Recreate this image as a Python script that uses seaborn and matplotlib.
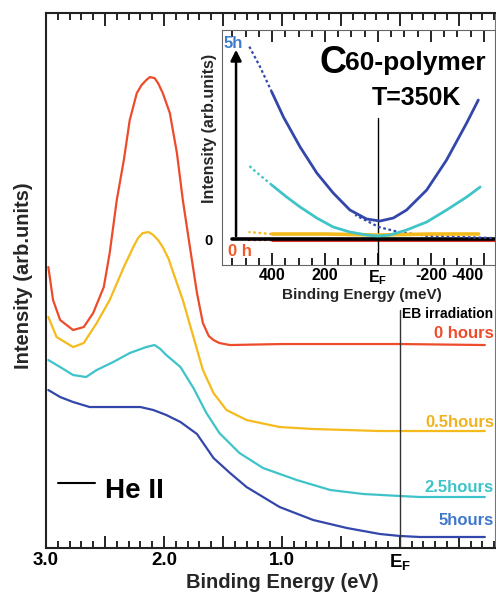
import matplotlib
matplotlib.use("Agg")
import pandas as pd
import seaborn as sns
import matplotlib.pyplot as plt
from matplotlib.ticker import FixedLocator, MultipleLocator

# main panel: binding energy (eV) vs intensity (arb.)
red_ev = [2.98, 2.94, 2.88, 2.77, 2.68, 2.60, 2.51, 2.46, 2.40, 2.34, 2.29, 2.23, 2.19, 2.15,
          2.12, 2.08, 2.05, 2.01, 1.95, 1.89, 1.84, 1.78, 1.72, 1.67, 1.62, 1.58, 1.53, 1.44,
          1.00, 0.50, 0.00, -0.72]
red_int = [281, 248, 228, 218, 221, 235, 261, 295, 348, 388, 428, 455, 463, 468,
           471, 470, 465, 455, 435, 395, 348, 301, 255, 225, 212, 208, 205, 203,
           204, 204, 204, 203]

yellow_ev = [2.98, 2.91, 2.77, 2.68, 2.57, 2.46, 2.34, 2.26, 2.22, 2.18, 2.13, 2.09, 2.05,
             2.01, 1.96, 1.92, 1.84, 1.75, 1.67, 1.58, 1.47, 1.30, 1.02, 0.735, 0.45, 0.17,
             -0.17, -0.72]
yellow_int = [231, 211, 201, 205, 225, 248, 281, 301, 310, 315, 316, 313, 308,
              301, 289, 275, 248, 211, 178, 155, 138, 128, 121, 119, 118, 117,
              117, 117]

cyan_ev = [2.98, 2.88, 2.77, 2.66, 2.57, 2.43, 2.29, 2.15, 2.08, 2.03, 1.98, 1.86, 1.75,
           1.64, 1.53, 1.36, 1.16, 0.875, 0.59, 0.31, 0.0, -0.17, -0.72]
cyan_int = [188, 181, 173, 171, 178, 186, 195, 201, 203, 199, 193, 181, 160,
            135, 115, 95, 80, 68, 58, 54, 52, 51, 51]

blue_ev = [2.98, 2.88, 2.77, 2.63, 2.49, 2.34, 2.20, 2.09, 1.98, 1.86, 1.72, 1.58, 1.44,
           1.30, 1.16, 1.02, 0.735, 0.45, 0.17, 0.0, -0.17, -0.72]
blue_int = [158, 151, 146, 141, 141, 141, 141, 138, 133, 126, 114, 90, 75,
            61, 51, 41, 28, 20, 14, 12, 11, 11]

series_names = ["0 hours", "0.5hours", "2.5hours", "5hours"]
line_colors = ["#EE4B2B", "#F5BA1C", "#3EC3CB", "#3347AA"]
label_colors = ["#EE4B2B", "#F0B21E", "#3EC3CB", "#3F78CA"]
label_base = [210, 121, 56, 23]

# inset: binding energy (meV) vs intensity near E_F
in_blue_mev = [401, 357, 294, 231, 169, 106, 43, -8, -58, -108, -184, -259, -335, -379]
in_blue_int = [147, 122, 92, 66, 46, 29, 20, 18, 21, 29, 49, 79, 116, 139]
in_cyan_mev = [401, 345, 294, 231, 169, 106, 43, -1, -45, -108, -184, -259, -335, -386]
in_cyan_int = [54, 42, 32, 21, 12, 7, 4, 3, 4, 9, 17, 29, 42, 52]
in_yellow_mev = [400, 200, 0, -200, -380]
in_yellow_int = [5, 5, 4, 5, 5]
in_red_mev = [401, 0, -442]
in_red_int = [-1, -1, -1]

# dotted extrapolations in the inset
dot_blue_mev = [489, 445, 401]
dot_blue_int = [194, 172, 147]
dot_cyan_mev = [489, 469, 401]
dot_cyan_int = [74, 69, 54]
dot_yellow_mev = [489, 401]
dot_yellow_int = [7, 5]
dot_red_mev = [489, 401]
dot_red_int = [-1, -1]
dot_tail_mev = [86, -3, -78, -191, -430]
dot_tail_int = [24, 12, 7, 3, 1]

sns.set_theme(style="white")
plt.rcParams["font.family"] = ["Liberation Sans", "DejaVu Sans"]
plt.rcParams["font.weight"] = "bold"
plt.rcParams["mathtext.fontset"] = "custom"
plt.rcParams["mathtext.rm"] = "Liberation Sans:bold"
plt.rcParams["mathtext.bf"] = "Liberation Sans:bold"
plt.rcParams["text.color"] = "black"

fig = plt.figure(figsize=(4.96, 5.93), dpi=100)
ax = fig.add_axes([0.0927, 0.0759, 0.905, 0.902])

frames = []
for name, ev, inten in zip(series_names, [red_ev, yellow_ev, cyan_ev, blue_ev],
                           [red_int, yellow_int, cyan_int, blue_int]):
    frames.append(pd.DataFrame({"energy": ev, "intensity": inten, "series": name}))
main_df = pd.concat(frames, ignore_index=True)

sns.lineplot(data=main_df, x="energy", y="intensity", hue="series", hue_order=series_names,
             palette=line_colors, estimator=None, lw=1.6, legend=False, ax=ax)

ax.set_xlim(3.0, -0.805)
ax.set_ylim(0, 535)
ax.xaxis.set_major_locator(FixedLocator([3.0, 2.5, 2.0, 1.5, 1.0, 0.5, 0.0, -0.5]))
ax.set_xticklabels(["3.0", "", "2.0", "", "1.0", "", r"$\mathbf{E_F}$", ""])
ax.xaxis.set_minor_locator(MultipleLocator(0.1))
ax.tick_params(axis="x", which="both", direction="in", bottom=True, top=True,
               labelsize=13.5, pad=3, color="black", labelcolor="black")
ax.tick_params(axis="x", which="major", length=9, width=1.2)
ax.tick_params(axis="x", which="minor", length=5, width=1.2)
ax.set_yticks([])
for s in ["left", "bottom", "top"]:
    ax.spines[s].set_color("#222222")
    ax.spines[s].set_linewidth(1.5)
ax.spines["right"].set_color("#777777")
ax.spines["right"].set_linewidth(0.8)

ax.set_xlabel("Binding Energy (eV)", fontsize=14.5, fontweight="bold")
ax.xaxis.set_label_coords(0.526, -0.046)
ax.set_ylabel("Intensity (arb.units)", fontsize=14.5, fontweight="bold")
ax.yaxis.set_label_coords(-0.03, 0.51)

ax.axvline(0, ymin=0, ymax=0.445, color="#333333", lw=1.0)
ax.text(-0.02, 230, "EB irradiation", fontsize=10, ha="left", va="baseline")
yt = ax.get_yaxis_transform()
for name, col, yb in zip(series_names, label_colors, label_base):
    ax.text(0.998, yb, name, color=col, fontsize=12, ha="right", va="baseline", transform=yt)

ax.plot([2.90, 2.585], [65, 65], color="black", lw=1.5)
ax.text(2.50, 50, "He II", fontsize=20, ha="left", va="baseline")

# inset
ax_in = fig.add_axes([0.4476, 0.5531, 0.5504, 0.3963])
ax_in.set_facecolor("white")
ax_in.set_xlim(589, -442)
ax_in.set_ylim(-26, 209)

dot = (0, (1.2, 1.2))
sns.lineplot(x=dot_red_mev, y=dot_red_int, color="#E0302A", lw=1.6, linestyle=dot, ax=ax_in)
sns.lineplot(x=in_red_mev, y=in_red_int, color="#E0302A", lw=2.2, ax=ax_in)
ax_in.axhline(0, xmin=0.035, color="black", lw=2.6, zorder=2.5)
for xs, ys, col in [(dot_yellow_mev, dot_yellow_int, "#F5BA1C"),
                    (dot_cyan_mev, dot_cyan_int, "#40C4C8"),
                    (dot_blue_mev, dot_blue_int, "#3347AA"),
                    (dot_tail_mev, dot_tail_int, "#3347AA")]:
    sns.lineplot(x=xs, y=ys, color=col, lw=1.6, linestyle=dot, ax=ax_in, zorder=3)
for xs, ys, col, w in [(in_yellow_mev, in_yellow_int, "#F5BA1C", 2.6),
                       (in_cyan_mev, in_cyan_int, "#40C4C8", 2.0),
                       (in_blue_mev, in_blue_int, "#3347AA", 2.0)]:
    sns.lineplot(x=xs, y=ys, color=col, lw=w, ax=ax_in, zorder=3)

ax_in.axvline(0, ymin=0, ymax=0.626, color="black", lw=1.0, zorder=2.6)
ax_in.annotate("", xy=(536, 192), xytext=(536, 0),
               arrowprops=dict(arrowstyle="-|>", color="black", lw=1.8, mutation_scale=16))
ax_in.text(585, 191, "5h", color="#3D7CCB", fontsize=12, ha="left", va="baseline")
ax_in.text(566, -17, "0 h", color="#F05A28", fontsize=12, ha="left", va="baseline")

ax_in.text(219, 166, "C", fontsize=27, ha="left", va="baseline")
ax_in.text(125, 169, "60-polymer", fontsize=19, ha="left", va="baseline")
ax_in.text(23, 134, "T=350K", fontsize=18, ha="left", va="baseline")

ax_in.xaxis.set_major_locator(FixedLocator([400, 200, 0, -200, -400]))
ax_in.set_xticklabels(["400", "200", r"$\mathbf{E_F}$", "-200", "-400"])
ax_in.xaxis.set_minor_locator(MultipleLocator(50))
ax_in.tick_params(axis="x", which="both", direction="in", bottom=True, top=True,
                  labelsize=11.5, pad=2.5, color="black", labelcolor="black")
ax_in.tick_params(axis="x", which="major", length=8.5, width=1.2)
ax_in.tick_params(axis="x", which="minor", length=5, width=1.2)
ax_in.get_xticklabels()[-1].set_horizontalalignment("right")
ax_in.set_yticks([0])
ax_in.set_yticklabels(["0"])
ax_in.tick_params(axis="y", length=0, pad=7, labelsize=10.5, labelcolor="black")
for s in ["left", "top", "bottom", "right"]:
    ax_in.spines[s].set_color("#666666")
    ax_in.spines[s].set_linewidth(0.8)

ax_in.set_xlabel("Binding Energy (meV)", fontsize=11, fontweight="bold")
ax_in.xaxis.set_label_coords(0.513, -0.097)
ax_in.set_ylabel("Intensity (arb.units)", fontsize=11.5, fontweight="bold")
ax_in.yaxis.set_label_coords(-0.02, 0.583)

fig.savefig("out.png", dpi=100)
